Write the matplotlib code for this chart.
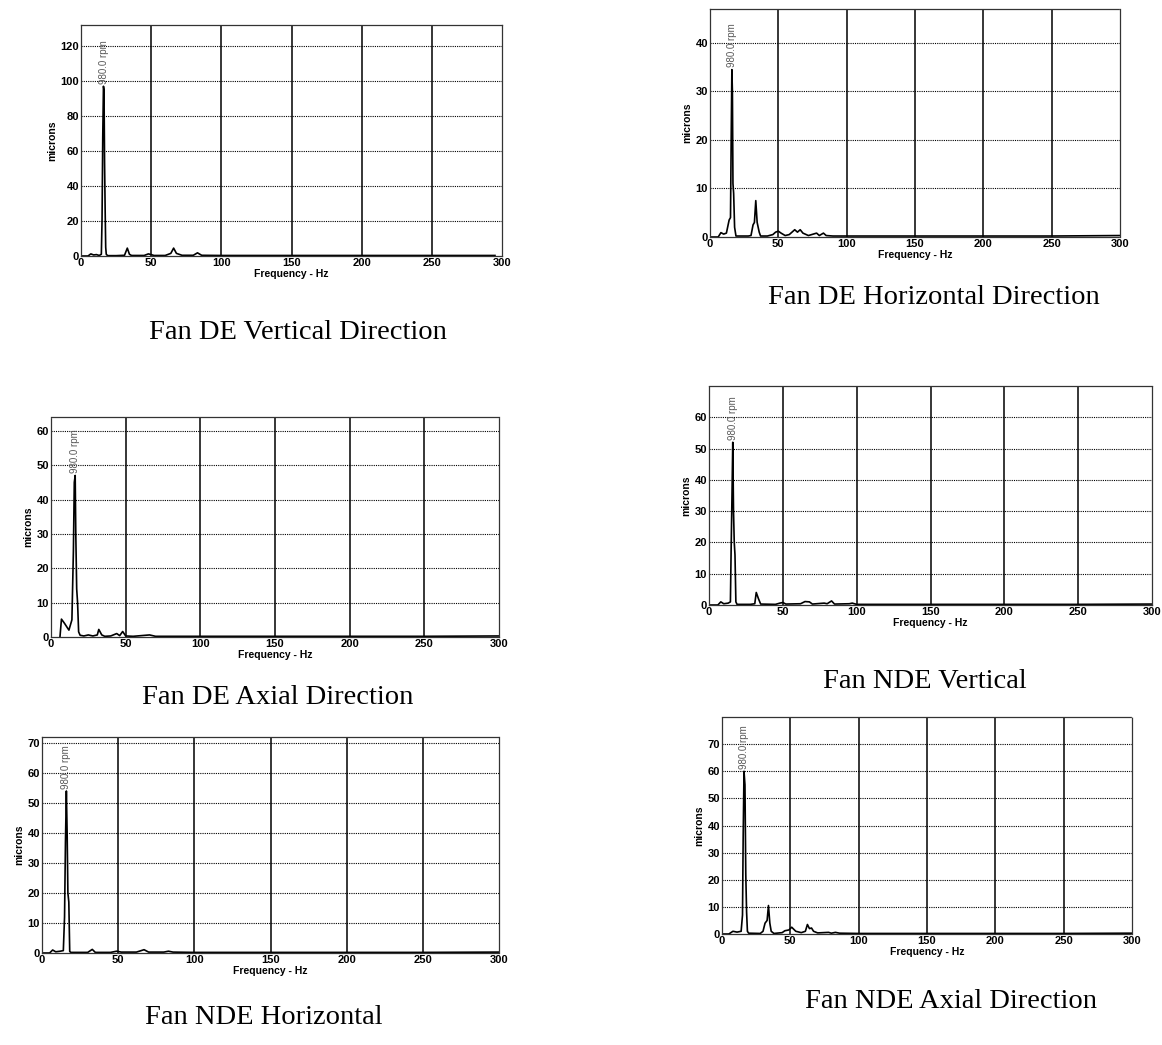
import matplotlib
matplotlib.use("Agg")
import matplotlib.pyplot as plt

W, H = 1162, 1045

# spectra (frequency in Hz, amplitude in microns)
de_vert_f = [0, 5, 7, 9, 11, 13, 14.5, 15, 15.5, 16, 16.4, 16.8, 17.2, 17.6, 18, 19, 25, 31, 33, 34.5, 36, 45, 48, 50, 52, 60, 64, 66, 68, 72, 80, 83, 86, 100, 150, 200, 250, 295]
de_vert_a = [0, 0, 1.2, 0.6, 0.8, 0.3, 1, 21, 68, 97, 95, 53, 27, 5, 1, 0.2, 0.2, 0.4, 4.5, 1, 0.3, 0.3, 1.2, 0.8, 0.3, 0.3, 1.5, 4.5, 1.5, 0.4, 0.4, 1.8, 0.4, 0.3, 0.3, 0.3, 0.3, 0.3]

de_horz_f = [0, 6, 8, 10, 12, 14, 15, 15.5, 16, 16.4, 16.8, 17.3, 18, 19, 28, 30, 31.5, 32.5, 33.5, 34.5, 36, 37, 42, 46, 48, 50, 52, 55, 58, 62, 64, 66, 68, 72, 78, 80, 83, 85, 90, 100, 150, 200, 250, 300]
de_horz_a = [0, 0, 0.9, 0.6, 0.8, 3.5, 4, 20, 34.5, 30, 11, 9, 2, 0.2, 0.2, 0.3, 2.5, 3, 7.5, 3, 1, 0.2, 0.2, 0.5, 1, 1.2, 0.8, 0.3, 0.5, 1.5, 1, 1.5, 0.8, 0.3, 0.8, 0.3, 0.8, 0.3, 0.2, 0.2, 0.2, 0.2, 0.2, 0.3]

de_axial_f = [6, 7, 9, 12, 14, 15, 15.6, 16.2, 16.6, 17.2, 17.8, 18.5, 19.5, 22, 25, 28, 31, 32, 34, 36, 40, 44, 46, 48, 50, 55, 66, 70, 100, 150, 200, 250, 300]
de_axial_a = [0, 5.2, 4, 2, 5, 25, 45, 47, 30, 14, 10, 1.5, 0.5, 0.3, 0.6, 0.3, 0.6, 2.2, 0.6, 0.2, 0.3, 1, 0.4, 1.6, 0.3, 0.2, 0.6, 0.2, 0.2, 0.2, 0.2, 0.2, 0.3]

nde_vert_f = [0, 6, 8, 10, 13, 14.5, 15, 15.6, 16.1, 16.6, 17.1, 17.6, 18.2, 19, 28, 31, 32, 33.5, 35, 45, 48, 50, 52, 62, 65, 68, 70, 78, 80, 83, 85, 95, 97, 100, 150, 200, 250, 300]
nde_vert_a = [0, 0, 1, 0.4, 0.6, 1, 18, 36, 52, 30, 20, 16, 1, 0.2, 0.2, 0.4, 4, 2, 0.3, 0.2, 0.6, 0.8, 0.3, 0.4, 1.1, 1, 0.3, 0.6, 0.4, 1.3, 0.3, 0.4, 0.6, 0.2, 0.2, 0.2, 0.2, 0.3]

nde_horz_f = [0, 5, 7, 9, 12, 14, 14.8, 15.4, 16, 16.5, 17, 17.6, 18.2, 19, 30, 33, 35, 45, 49, 52, 62, 67, 70, 80, 83, 86, 100, 150, 200, 250, 300]
nde_horz_a = [0, 0, 1, 0.4, 0.6, 0.8, 12, 37, 54, 40, 20, 17, 0.5, 0.2, 0.2, 1.2, 0.2, 0.2, 0.6, 0.3, 0.3, 1.1, 0.3, 0.3, 0.6, 0.3, 0.2, 0.2, 0.2, 0.2, 0.3]

nde_axial_f = [0, 5, 8, 11, 14, 15, 15.5, 16.1, 16.8, 17.4, 18, 18.6, 19.5, 28, 30, 31.5, 33, 34, 35, 36, 38, 44, 46, 49, 51, 54, 58, 61, 62.5, 64, 65.5, 67, 70, 78, 80, 83, 86, 100, 150, 200, 250, 300]
nde_axial_a = [0, 0, 1, 0.7, 1, 7, 36, 60, 55, 22, 8, 1, 0.3, 0.2, 1, 4, 5, 10.5, 4, 1, 0.2, 0.5, 1.2, 1.5, 2.5, 1, 0.5, 1, 3.5, 2, 2.2, 1, 0.4, 0.6, 0.3, 0.6, 0.3, 0.2, 0.2, 0.2, 0.2, 0.3]

peak_f = [16.3, 16.3, 16.4, 16.1, 16.0, 16.1]
peak_a = [97, 34.5, 47, 52, 54, 60]
peak_label = "980.0 rpm"

titles = ["Fan DE Vertical Direction", "Fan DE Horizontal Direction",
          "Fan DE Axial Direction", "Fan NDE Vertical",
          "Fan NDE Horizontal", "Fan NDE Axial Direction"]
freqs = [de_vert_f, de_horz_f, de_axial_f, nde_vert_f, nde_horz_f, nde_axial_f]
amps = [de_vert_a, de_horz_a, de_axial_a, nde_vert_a, nde_horz_a, nde_axial_a]
ymax = [132, 47, 64, 70, 72, 80]
ystep = [20, 10, 10, 10, 10, 10]
ytop = [120, 40, 60, 60, 70, 70]

# axes boxes in pixels: left, right, top, bottom ; title centre x, y
boxes = [(81, 502, 25, 256), (710, 1120, 9, 237), (51, 499, 417, 637),
         (709, 1152, 386, 605), (42, 499, 737, 953), (722, 1132, 717, 934)]
title_pos = [(298, 332), (934, 298), (278, 697), (925, 682), (264, 1017), (951, 1002)]

fig = plt.figure(figsize=(W / 100, H / 100), dpi=100)

for i in range(6):
    l, r, t, b = boxes[i]
    ax = fig.add_axes([l / W, 1 - b / H, (r - l) / W, (b - t) / H])
    ax.plot(freqs[i], amps[i], color="black", linewidth=1.2)
    ax.set_xlim(0, 300)
    ax.set_ylim(0, ymax[i])
    ax.set_xticks(range(0, 301, 50))
    ax.set_yticks(range(0, ytop[i] + 1, ystep[i]))
    for x in range(50, 300, 50):
        ax.axvline(x, color="black", linewidth=1.1)
    for y in range(ystep[i], ytop[i] + 1, ystep[i]):
        ax.axhline(y, color="black", linewidth=0.8, linestyle=(0, (1, 1)))
    for s in ax.spines.values():
        s.set_linestyle((0, (1, 1)))
        s.set_color("0.2")
        s.set_linewidth(0.9)
    ax.tick_params(length=0, pad=1.5, labelsize=8)
    for lab in ax.get_xticklabels() + ax.get_yticklabels():
        lab.set_fontweight("bold")
        lab.set_fontfamily("Liberation Sans")
    ax.set_xlabel("Frequency - Hz", fontsize=7.5, fontweight="bold", family="Liberation Sans", labelpad=1)
    ax.set_ylabel("microns", fontsize=7.5, fontweight="bold", family="Liberation Sans", labelpad=2)
    ax.text(peak_f[i], peak_a[i] + ymax[i] * 0.01, peak_label, rotation=90, ha="center", va="bottom",
            fontsize=7, color="0.35", family="Liberation Sans")
    tx, ty = title_pos[i]
    fig.text(tx / W, 1 - ty / H, titles[i], ha="center", va="center", fontsize=20.5, family="Liberation Serif")

fig.savefig("out.png", dpi=100, facecolor="white")
